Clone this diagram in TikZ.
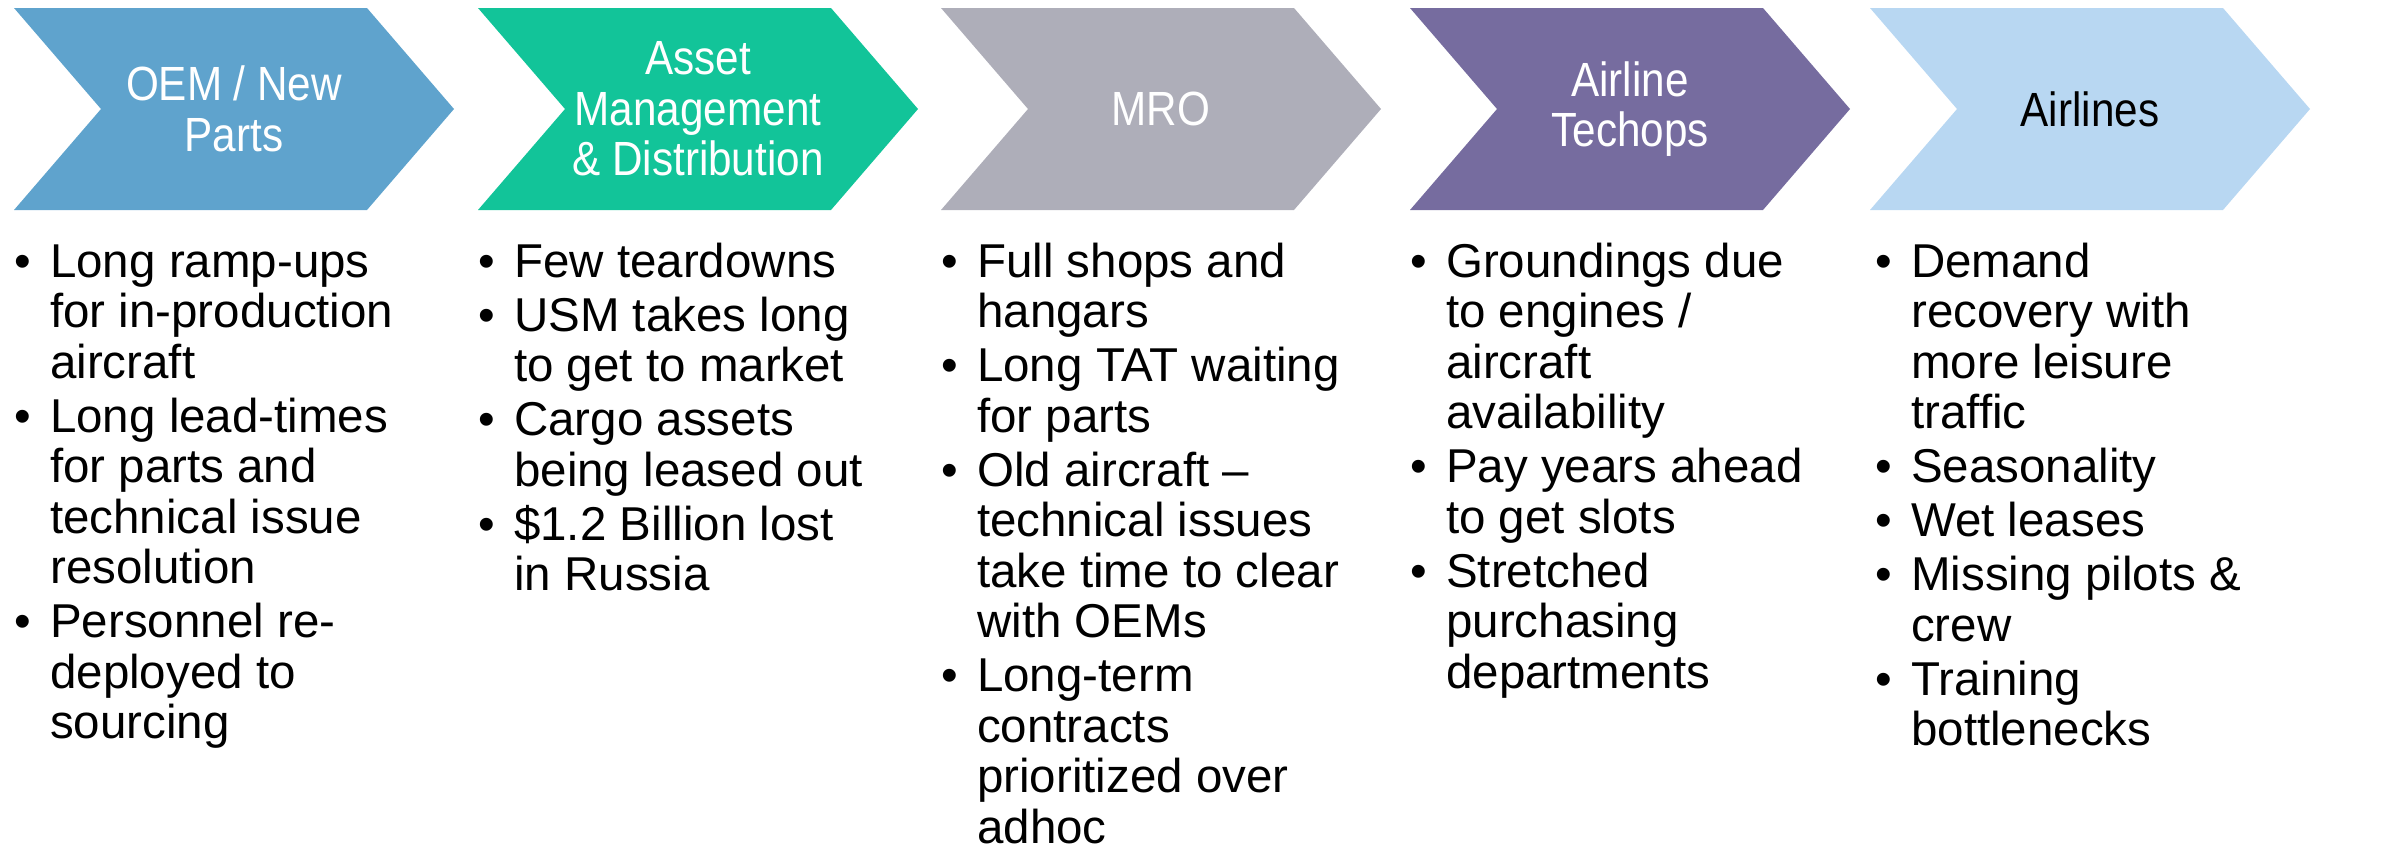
\documentclass[tikz,border=0pt]{standalone}
\usepackage{fontspec}
\setmainfont{Liberation Sans}
\newfontfamily\headfont[FakeStretch=0.88]{Liberation Sans}
\usepackage{array}
\usepackage{tikz}
\usetikzlibrary{positioning}
\definecolor{OEMBlue}{HTML}{5FA3CD}
\definecolor{AssetTeal}{HTML}{12C499}
\definecolor{MROGray}{HTML}{AEAEB9}
\definecolor{TechPurple}{HTML}{766C9F}
\definecolor{AirSky}{HTML}{B8D7F2}

% one chevron of the chain: #1 left edge, #2 fill colour
\newcommand{\stagearrow}[2]{%
  \fill[#2] (#1,8) -- ++(353,0) -- ++(87,101) -- ++(-87,101) -- ++(-353,0) -- ++(87,-101) -- cycle;}
% bullet lists under the chevrons
\newcommand{\issuelist}[1]{\begin{tabular}[t]{@{}p{36pt}@{}l@{}}#1\end{tabular}}
\newcommand{\bul}{\textbullet &}

\begin{document}
\begin{tikzpicture}[x=1pt, y=-1pt,
    stage/.style={align=center, text=white, inner sep=0pt, font=\headfont\fontsize{48}{50.5}\selectfont},
    issues/.style={anchor=base west, inner sep=0pt, font=\fontsize{47.5}{50.5}\selectfont}
]
\useasboundingbox (0,0) rectangle (2394,849);

% Chevrons
\stagearrow{14}{OEMBlue}
\stagearrow{478}{AssetTeal}
\stagearrow{941}{MROGray}
\stagearrow{1410}{TechPurple}
\stagearrow{1870}{AirSky}

% Stage titles
\node[stage] (oem) at (234,109) {OEM / New\\Parts};
\node[stage] (asset) at (698,109) {Asset\\Management\\\& Distribution};
\node[stage] (mro) at (1161,109) {MRO};
\node[stage] (techops) at (1630,109) {Airline\\Techops};
\node[stage, text=black] (airlines) at (2090,109) {Airlines};

% Issues per stage
\node[issues] (oemIssues) at (14,277) {\issuelist{%
  \bul Long ramp-ups\\ & for in-production\\ & aircraft\\[3.5pt]
  \bul Long lead-times\\ & for parts and\\ & technical issue\\ & resolution\\[3.5pt]
  \bul Personnel re-\\ & deployed to\\ & sourcing}};

\node[issues] (assetIssues) at (478,277) {\issuelist{%
  \bul Few teardowns\\[3.5pt]
  \bul USM takes long\\ & to get to market\\[3.5pt]
  \bul Cargo assets\\ & being leased out\\[3.5pt]
  \bul \$1.2 Billion lost\\ & in Russia}};

\node[issues] (mroIssues) at (941,277) {\issuelist{%
  \bul Full shops and\\ & hangars\\[3.5pt]
  \bul Long TAT waiting\\ & for parts\\[3.5pt]
  \bul Old aircraft –\\ & technical issues\\ & take time to clear\\ & with OEMs\\[3.5pt]
  \bul Long-term\\ & contracts\\ & prioritized over\\ & adhoc}};

\node[issues] (techopsIssues) at (1410,277) {\issuelist{%
  \bul Groundings due\\ & to engines /\\ & aircraft\\ & availability\\[3.5pt]
  \bul Pay years ahead\\ & to get slots\\[3.5pt]
  \bul Stretched\\ & purchasing\\ & departments}};

\node[issues] (airlinesIssues) at (1875,277) {\issuelist{%
  \bul Demand\\ & recovery with\\ & more leisure\\ & traffic\\[3.5pt]
  \bul Seasonality\\[3.5pt]
  \bul Wet leases\\[3.5pt]
  \bul Missing pilots \&\\ & crew\\[3.5pt]
  \bul Training\\ & bottlenecks}};

\end{tikzpicture}
\end{document}
